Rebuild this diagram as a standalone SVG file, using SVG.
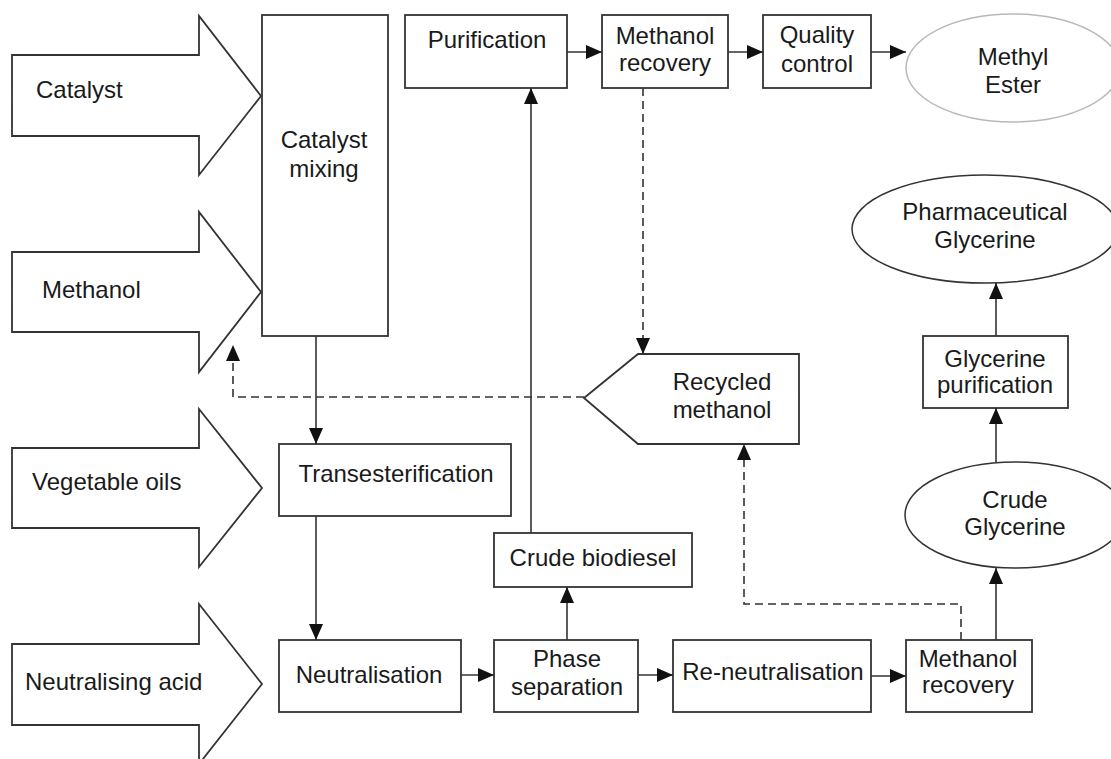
<svg xmlns="http://www.w3.org/2000/svg" width="1111" height="759" viewBox="0 0 1111 759">
<defs>
<marker id="ah" markerWidth="16" markerHeight="14" refX="16" refY="7" orient="auto" markerUnits="userSpaceOnUse">
<path d="M0,0 L16,7 L0,14 Z" fill="#111"/>
</marker>
<style>
.box{fill:#fff;stroke:#333;stroke-width:1.8}
.ell{fill:#fff;stroke:#333;stroke-width:1.5}
.ell2{fill:#fff;stroke:#b8b8b8;stroke-width:1.5}
.big{fill:#fff;stroke:#333;stroke-width:1.8;stroke-linejoin:miter}
text{font-family:"Liberation Sans",Arial,sans-serif;font-size:24px;fill:#1a1a1a}
.c{text-anchor:middle}
.ln{fill:none;stroke:#333;stroke-width:1.6}
.ds{fill:none;stroke:#333;stroke-width:1.6;stroke-dasharray:8 5}
</style>
</defs>
<rect width="1111" height="759" fill="#fff"/>

<g id="in-catalyst">
<polygon class="big" points="12,55 199,55 199,16 261,96 199,175 199,136 12,136"/>
<text x="36" y="98">Catalyst</text>
</g>
<g id="in-methanol">
<polygon class="big" points="12,252 199,252 199,212 261,292 199,372 199,332 12,332"/>
<text x="42" y="298">Methanol</text>
</g>
<g id="in-vegoils">
<polygon class="big" points="12,448 199,448 199,409 262,488 199,567 199,528 12,528"/>
<text x="32" y="490">Vegetable oils</text>
</g>
<g id="in-acid">
<polygon class="big" points="12,644 199,644 199,604 262,684 199,764 199,725 12,725"/>
<text x="25" y="690">Neutralising acid</text>
</g>

<g id="catalyst-mixing">
<rect class="box" x="262" y="15" width="126" height="321"/>
<text class="c" x="324" y="148">Catalyst</text>
<text class="c" x="324" y="177">mixing</text>
</g>
<g id="transesterification">
<rect class="box" x="279" y="444" width="232" height="72"/>
<text class="c" x="396" y="482">Transesterification</text>
</g>
<g id="neutralisation">
<rect class="box" x="279" y="640" width="182" height="72"/>
<text class="c" x="369" y="683">Neutralisation</text>
</g>
<g id="phase-separation">
<rect class="box" x="494" y="640" width="144" height="72"/>
<text class="c" x="567" y="667">Phase</text>
<text class="c" x="567" y="695">separation</text>
</g>
<g id="crude-biodiesel">
<rect class="box" x="494" y="533" width="198" height="54"/>
<text class="c" x="593" y="566">Crude biodiesel</text>
</g>
<g id="re-neutralisation">
<rect class="box" x="673" y="640" width="198" height="72"/>
<text class="c" x="773" y="680">Re-neutralisation</text>
</g>
<g id="methanol-recovery-2">
<rect class="box" x="906" y="640" width="126" height="72"/>
<text class="c" x="968" y="667">Methanol</text>
<text class="c" x="968" y="693">recovery</text>
</g>
<g id="purification">
<rect class="box" x="405" y="15" width="162" height="73"/>
<text class="c" x="487" y="48">Purification</text>
</g>
<g id="methanol-recovery-1">
<rect class="box" x="602" y="15" width="126" height="73"/>
<text class="c" x="665" y="44">Methanol</text>
<text class="c" x="665" y="71">recovery</text>
</g>
<g id="quality-control">
<rect class="box" x="763" y="15" width="108" height="73"/>
<text class="c" x="817" y="43">Quality</text>
<text class="c" x="817" y="72">control</text>
</g>
<g id="methyl-ester">
<ellipse class="ell2" cx="1013" cy="68" rx="107" ry="54"/>
<text class="c" x="1013" y="65">Methyl</text>
<text class="c" x="1013" y="93">Ester</text>
</g>
<g id="recycled-methanol">
<polygon class="box" points="584,398 638,354 799,354 799,444 638,444"/>
<text class="c" x="722" y="390">Recycled</text>
<text class="c" x="722" y="418">methanol</text>
</g>
<g id="pharma-glycerine">
<ellipse class="ell" cx="985" cy="229" rx="133" ry="54"/>
<text class="c" x="985" y="220">Pharmaceutical</text>
<text class="c" x="985" y="248">Glycerine</text>
</g>
<g id="glycerine-purification">
<rect class="box" x="923" y="336" width="145" height="72"/>
<text class="c" x="995" y="367">Glycerine</text>
<text class="c" x="995" y="393">purification</text>
</g>
<g id="crude-glycerine">
<ellipse class="ell" cx="1015" cy="515" rx="110" ry="53"/>
<text class="c" x="1015" y="508">Crude</text>
<text class="c" x="1015" y="535">Glycerine</text>
</g>

<g id="connectors">
<line class="ln" x1="316" y1="336" x2="316" y2="444" marker-end="url(#ah)"/>
<line class="ln" x1="316" y1="516" x2="316" y2="640" marker-end="url(#ah)"/>
<line class="ln" x1="461" y1="675" x2="494" y2="675" marker-end="url(#ah)"/>
<line class="ln" x1="567" y1="640" x2="567" y2="587" marker-end="url(#ah)"/>
<line class="ln" x1="531" y1="533" x2="531" y2="88" marker-end="url(#ah)"/>
<line class="ln" x1="567" y1="52" x2="602" y2="52" marker-end="url(#ah)"/>
<line class="ln" x1="728" y1="52" x2="763" y2="52" marker-end="url(#ah)"/>
<line class="ln" x1="871" y1="52" x2="906" y2="52" marker-end="url(#ah)"/>
<line class="ds" x1="643" y1="88" x2="643" y2="354" marker-end="url(#ah)"/>
<polyline class="ds" points="584,397 233,397 233,345" marker-end="url(#ah)"/>
<line class="ln" x1="638" y1="675" x2="673" y2="675" marker-end="url(#ah)"/>
<line class="ln" x1="871" y1="676" x2="906" y2="676" marker-end="url(#ah)"/>
<polyline class="ds" points="961,640 961,604 744,604 744,444" marker-end="url(#ah)"/>
<line class="ln" x1="996" y1="640" x2="996" y2="568" marker-end="url(#ah)"/>
<line class="ln" x1="996" y1="462" x2="996" y2="408" marker-end="url(#ah)"/>
<line class="ln" x1="996" y1="336" x2="996" y2="283" marker-end="url(#ah)"/>
</g>
</svg>
